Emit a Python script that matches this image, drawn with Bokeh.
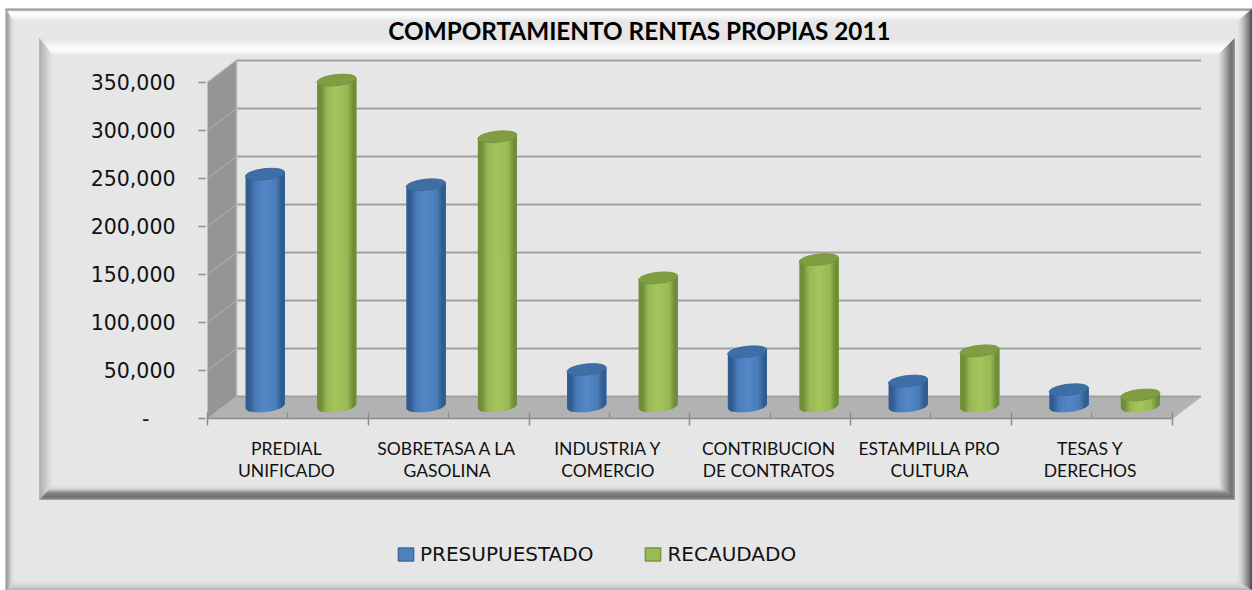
import numpy as np
from bokeh.embed import file_html
from bokeh.resources import INLINE
from bokeh.plotting import figure
from bokeh.core.properties import value
from bokeh.models import (Range1d, LinearAxis, FixedTicker, NumeralTickFormatter, Label, Legend, LegendItem)

categories = ["PREDIAL\nUNIFICADO", "SOBRETASA A LA\nGASOLINA", "INDUSTRIA Y\nCOMERCIO",
              "CONTRIBUCION\nDE CONTRATOS", "ESTAMPILLA PRO\nCULTURA", "TESAS Y\nDERECHOS"]
presupuestado = [242000, 231000, 38500, 57000, 26500, 17500]
recaudado = [340000, 281000, 134000, 153000, 58000, 12000]
y_ticks = [0, 50000, 100000, 150000, 200000, 250000, 300000, 350000]
title_text = "COMPORTAMIENTO RENTAS PROPIAS 2011"
series_names = ["PRESUPUESTADO", "RECAUDADO"]

# page geometry
PX_L, PX_R, PX_T, PX_B = 5, 1252, 8, 590
X0_PX, CAT_PX = 207.0, 160.75
Y0_PX, VAL_PX = 418.0, 0.96 / 1000
DX = 29 / CAT_PX
DY = 22 / VAL_PX
N = len(categories)

p = figure(width=PX_R - PX_L, height=PX_B - PX_T, output_backend="svg", toolbar_location=None,
           x_axis_type=None, y_axis_type=None, min_border=0, outline_line_color=None,
           x_range=Range1d((PX_L - X0_PX) / CAT_PX, (PX_R - X0_PX) / CAT_PX),
           y_range=Range1d((Y0_PX - PX_B) / VAL_PX, (Y0_PX - PX_T) / VAL_PX),
           margin=(PX_T, 0, 0, PX_L), background_fill_color="white", border_fill_color="white")
p.grid.visible = False
p.extra_x_ranges["px"] = Range1d(PX_L, PX_R)
p.extra_y_ranges["px"] = Range1d(PX_B, PX_T)


def hexmix(stops, f):
    pos = [s[0] for s in stops]
    rgb = [int(np.interp(f, pos, [int(s[1][i:i + 2], 16) for s in stops])) for i in (1, 3, 5)]
    return "#%02x%02x%02x" % tuple(rgb)


def bevel(x0, y0, x1, y1, wl, wt, wr, wb, sl, st, sr, sb, steps=16):
    xs, ys, cs = [], [], []
    for k in range(steps):
        a, b = k / steps, (k + 1) / steps
        c = (a + b) / 2
        ox0, oy0, ox1, oy1 = x0 + wl * a, y0 + wt * a, x1 - wr * a, y1 - wb * a
        ix0, iy0, ix1, iy1 = x0 + wl * b, y0 + wt * b, x1 - wr * b, y1 - wb * b
        xs += [[ox0, ox1, ix1, ix0], [ox1, ox1, ix1, ix1], [ox0, ox1, ix1, ix0], [ox0, ox0, ix0, ix0]]
        ys += [[oy0, oy0, iy0, iy0], [oy0, oy1, iy1, iy0], [oy1, oy1, iy1, iy1], [oy0, oy1, iy1, iy0]]
        cs += [hexmix(st, c), hexmix(sr, c), hexmix(sb, c), hexmix(sl, c)]
    p.patches(xs, ys, fill_color=cs, line_color=cs, line_width=0.5, x_range_name="px", y_range_name="px")


BG = "#e6e6e6"
# chart area background and outer bevel
p.quad(left=[5], right=[1252], top=[8], bottom=[590], fill_color=BG, line_color=None,
       x_range_name="px", y_range_name="px")
bevel(5, 8, 1252, 590, 8, 13, 15, 9,
      [(0, "#999999"), (.35, "#a8a8a8"), (.6, "#c8c8c8"), (1, BG)],
      [(0, "#909090"), (.15, "#a0a0a0"), (.25, "#ffffff"), (.6, "#fafafa"), (1, BG)],
      [(0, "#7a7a7a"), (.1, "#454545"), (.3, "#808080"), (.6, "#b8b8b8"), (1, BG)],
      [(0, "#a8a8a8"), (.4, "#cccccc"), (1, BG)])
# inner bevel
bevel(39, 38, 1234, 499, 13, 16, 16, 14,
      [(0, "#a8a8a8"), (.4, "#c4c4c4"), (1, BG)],
      [(0, "#e2e2e2"), (.5, "#fbfbfb"), (.75, "#ffffff"), (1, "#ececec")],
      [(0, "#808080"), (.25, "#6c6c6c"), (.6, "#a8a8a8"), (1, BG)],
      [(0, "#909090"), (.2, "#6e6e6e"), (.5, "#808080"), (.75, "#d0d0d0"), (1, BG)])

# 3-D walls
p.patch([0, DX, DX, 0], [0, DY, y_ticks[-1] + DY, y_ticks[-1]], fill_color="#959595", line_color=None)
p.patch([0, N, N + DX, DX], [0, 0, DY, DY], fill_color="#b2b2b2", line_color=None)
p.multi_line([[DX, N + DX] for _ in y_ticks], [[v + DY, v + DY] for v in y_ticks],
             line_color="#9f9f9f", line_width=2.2)
p.multi_line([[0, DX] for _ in y_ticks[1:]], [[v, v + DY] for v in y_ticks[1:]],
             line_color="#a8a8a8", line_width=1.5)
p.multi_line([[DX, DX], [N, N + DX]], [[0 + DY, y_ticks[-1] + DY], [0, DY]],
             line_color="#b4b4b4", line_width=1.5)

# cylinders
BAR_HALF = 19.5 / CAT_PX
RY = 5.5 / VAL_PX
TILT = 2 / VAL_PX
BASE = 12500
BLUE = {"edge": "#305c90", "mid": "#4a7cb8", "hi": "#5488c8", "top": "#3f6ea6", "line": "#3a6a9e"}
GREEN = {"edge": "#6f8d38", "mid": "#98b955", "hi": "#a4c65e", "top": "#7e9e41", "line": "#78963e"}


def cylinders(vals, offset, pal):
    stops = [(0, pal["edge"]), (.10, pal["edge"]), (.25, pal["mid"]), (.5, pal["hi"]), (.78, pal["mid"]),
             (.93, pal["edge"]), (1, pal["edge"])]
    edges = np.linspace(-1, 1, 21)
    xs, ys, cs = [], [], []
    for i, v in enumerate(vals):
        cx = i + offset
        for a, b in zip(edges[:-1], edges[1:]):
            ya = -RY * np.sqrt(max(0, 1 - a * a)) + TILT * a
            yb = -RY * np.sqrt(max(0, 1 - b * b)) + TILT * b
            # each strip runs to the right edge so that the next one overpaints it without a seam
            xs.append([cx + a * BAR_HALF, cx + b * BAR_HALF, cx + BAR_HALF, cx + BAR_HALF,
                       cx + b * BAR_HALF, cx + a * BAR_HALF])
            ys.append([BASE + ya, BASE + yb, BASE + TILT, BASE + v + TILT,
                       BASE + v + TILT * b, BASE + v + TILT * a])
            cs.append(hexmix(stops, ((a + b) / 2 + 1) / 2))
    p.patches(xs, ys, fill_color=cs, line_color=None)
    t = np.linspace(0, 2 * np.pi, 48)
    tx = [i + offset + BAR_HALF * np.cos(t) for i in range(len(vals))]
    ty = [BASE + v + RY * np.sin(t) + TILT * np.cos(t) for v in vals]
    p.patches(tx, ty, fill_color=pal["top"], line_color=pal["line"], line_width=1)


pairs = list(zip(presupuestado, recaudado))
for i, (b, g) in enumerate(pairs):
    cylinders([b], i + 0.358, BLUE)
    cylinders([g], i + 0.803, GREEN)

# axes
yaxis = LinearAxis(fixed_location=-2 / CAT_PX, bounds=(0, y_ticks[-1]), ticker=FixedTicker(ticks=y_ticks),
                   formatter=NumeralTickFormatter(format="0,0"),
                   major_label_overrides={0: "-\u00a0\u00a0\u00a0\u00a0"},
                   axis_line_color=None, major_tick_line_color="#8c8c8c", major_tick_line_width=1.5,
                   major_tick_out=7, major_tick_in=0, minor_tick_out=0, minor_tick_in=0,
                   major_label_standoff=23, major_label_text_font="DejaVu Sans",
                   major_label_text_font_size="20.5px", major_label_text_color="#111111")
p.add_layout(yaxis, "left")

centres = [i + 0.5 for i in range(N)]
xticks = LinearAxis(fixed_location=0, bounds=(0, N),
                    ticker=FixedTicker(ticks=list(range(N + 1)), minor_ticks=centres),
                    axis_line_color="#8c8c8c", axis_line_width=1.5, major_tick_line_color="#8c8c8c",
                    major_tick_line_width=1.5, major_tick_out=7, major_tick_in=6,
                    minor_tick_line_color="#8c8c8c", minor_tick_line_width=1.2, minor_tick_out=0, minor_tick_in=6,
                    major_label_text_font_size="0px", major_label_overrides={i: "" for i in range(N + 1)})
p.add_layout(xticks, "below")
label_pos = [round(c - 1.5 / CAT_PX, 4) for c in centres]
xlabels = LinearAxis(fixed_location=0, bounds=(0, N), ticker=FixedTicker(ticks=label_pos),
                     major_label_overrides={c: lab for c, lab in zip(label_pos, categories)},
                     axis_line_color=None, major_tick_line_color=None,
                     major_tick_out=0, major_tick_in=0, minor_tick_out=0, minor_tick_in=0,
                     major_label_standoff=19, major_label_text_font="Lato", major_label_text_font_size="17.5px",
                     major_label_text_color="#111111", major_label_text_line_height=1.08)
p.add_layout(xlabels, "below")

# title
p.add_layout(Label(x=639, y=30, x_range_name="px", y_range_name="px", text=title_text,
                   text_font="Lato", text_font_style="bold", text_font_size="24.3px", text_color="#000000",
                   text_align="center", text_baseline="middle"))

# legend
nan = float("nan")
r1 = p.quad(left=[nan], right=[nan], top=[nan], bottom=[nan], fill_color="#4f81bd", line_color="#3a6a9e", line_width=1.5)
r2 = p.quad(left=[nan], right=[nan], top=[nan], bottom=[nan], fill_color="#9bbb59", line_color="#78963e", line_width=1.5)
legend = Legend(items=[LegendItem(label=value(series_names[0]), renderers=[r1], index=0),
                       LegendItem(label=value(series_names[1]), renderers=[r2], index=0)],
                orientation="horizontal", location=(391, 24), background_fill_alpha=0, border_line_color=None,
                glyph_width=19, glyph_height=16, label_text_font="DejaVu Sans", label_text_font_size="20px",
                label_text_color="#111111", spacing=50, label_standoff=5, padding=5, margin=0)
p.add_layout(legend, "center")

open("out.html", "w").write(file_html(p, INLINE))
